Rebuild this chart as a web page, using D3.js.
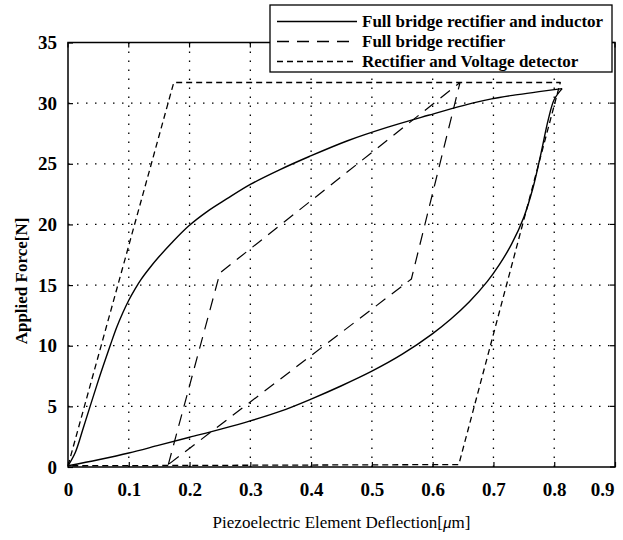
<!DOCTYPE html>
<html>
<head>
<meta charset="utf-8">
<script src="https://cdn.jsdelivr.net/npm/d3@7/dist/d3.min.js"></script>
<style>
  html, body { margin: 0; padding: 0; background: #fff; }
  svg { display: block; }
</style>
</head>
<body>
<svg id="chart" width="623" height="540"></svg>
<script>
// Axis ticks
const xTicks = [0, 0.1, 0.2, 0.3, 0.4, 0.5, 0.6, 0.7, 0.8, 0.9];
const yTicks = [0, 5, 10, 15, 20, 25, 30, 35];

// Full bridge rectifier and inductor: loading branch then unloading branch
const inductorUpX = [0, 0.012, 0.025, 0.037, 0.053, 0.07, 0.08, 0.09, 0.1, 0.11, 0.12, 0.135, 0.15, 0.17, 0.198, 0.23, 0.261, 0.3, 0.348, 0.397, 0.46, 0.525, 0.593, 0.65, 0.697, 0.74, 0.775, 0.813];
const inductorUpY = [0.1, 1.2, 3.2, 5.1, 7.6, 10.1, 11.5, 12.7, 13.75, 14.65, 15.45, 16.45, 17.35, 18.45, 19.85, 21.1, 22.1, 23.3, 24.5, 25.6, 26.9, 28.0, 29.0, 29.8, 30.35, 30.7, 30.95, 31.2];
const inductorDownX = [0.813, 0.80, 0.79, 0.778, 0.765, 0.75, 0.73, 0.71, 0.69, 0.66, 0.63, 0.6, 0.55, 0.5, 0.45, 0.4, 0.35, 0.3, 0.25, 0.2, 0.15, 0.1, 0.05, 0];
const inductorDownY = [31.2, 30.3, 28.6, 25.8, 23.0, 20.6, 18.4, 16.7, 15.3, 13.6, 12.2, 11.0, 9.3, 7.9, 6.7, 5.6, 4.6, 3.8, 3.1, 2.45, 1.8, 1.15, 0.6, 0.1];

// Full bridge rectifier loop
const bridgeX = [0.165, 0.25, 0.645, 0.565, 0.165];
const bridgeY = [0.2, 16.0, 31.7, 15.5, 0.2];

// Rectifier and Voltage detector loop
const detectorX = [0, 0.174, 0.81, 0.643, 0];
const detectorY = [0.1, 31.7, 31.7, 0.2, 0.1];

const legendLabels = [
  "Full bridge rectifier and inductor",
  "Full bridge rectifier",
  "Rectifier and Voltage detector"
];

const serif = "'Liberation Serif', 'Times New Roman', Times, serif";
const plot = { left: 68, right: 615, top: 42.5, bottom: 467 };

const svg = d3.select("#chart");
svg.append("rect").attr("width", 623).attr("height", 540).attr("fill", "#fff");

const x = d3.scaleLinear().domain([0, 0.9]).range([plot.left, plot.right]);
const y = d3.scaleLinear().domain([0, 35]).range([plot.bottom, plot.top]);
const W = plot.right - plot.left, H = plot.bottom - plot.top;

// Dotted grid at interior ticks
const gridX = xTicks.filter(d => d > 0 && d < 0.9);
const gridY = yTicks.filter(d => d > 0 && d < 35);
const grid = svg.append("g").attr("stroke", "#000").attr("stroke-width", 1.3)
  .attr("stroke-dasharray", "1.5,7.5").attr("fill", "none");
grid.selectAll("line.gx").data(gridX).join("line")
  .attr("x1", d => x(d)).attr("x2", d => x(d))
  .attr("y1", plot.bottom).attr("y2", plot.top);
grid.selectAll("line.gy").data(gridY).join("line")
  .attr("y1", d => y(d)).attr("y2", d => y(d))
  .attr("x1", plot.left).attr("x2", plot.right);

// Axes with inward ticks
const xAxis = d3.axisBottom(x).tickValues(xTicks).tickFormat(d3.format("")).tickSizeInner(-5).tickSizeOuter(0).tickPadding(16);
const yAxis = d3.axisLeft(y).tickValues(yTicks).tickFormat(d3.format("")).tickSizeInner(-5).tickSizeOuter(0).tickPadding(11);
const gx = svg.append("g").attr("transform", `translate(0,${plot.bottom})`).call(xAxis);
const gy = svg.append("g").attr("transform", `translate(${plot.left},0)`).call(yAxis);
[gx, gy].forEach(g => {
  g.select(".domain").remove();
  g.selectAll(".tick line").attr("stroke", "#000").attr("stroke-width", 1.2);
  g.selectAll(".tick text").attr("fill", "#000")
    .style("font-family", serif).style("font-size", "19px").style("font-weight", "bold");
});
// keep the last x label inside the canvas
gx.selectAll(".tick text").filter(d => d === 0.9).attr("text-anchor", "end").attr("x", -1);

// Ticks on the top and right sides
svg.append("g").selectAll("line").data(xTicks).join("line")
  .attr("x1", d => x(d)).attr("x2", d => x(d)).attr("y1", plot.top).attr("y2", plot.top + 5)
  .attr("stroke", "#000").attr("stroke-width", 1.2);
svg.append("g").selectAll("line").data(yTicks).join("line")
  .attr("y1", d => y(d)).attr("y2", d => y(d)).attr("x1", plot.right).attr("x2", plot.right - 5)
  .attr("stroke", "#000").attr("stroke-width", 1.2);

// Data curves
const smooth = d3.line().x(d => x(d[0])).y(d => y(d[1])).curve(d3.curveCatmullRom.alpha(0.5));
const straight = d3.line().x(d => x(d[0])).y(d => y(d[1]));
const zip = (a, b) => a.map((v, i) => [v, b[i]]);

const curves = svg.append("g").attr("fill", "none").attr("stroke", "#000").attr("stroke-linejoin", "round");
curves.append("path").attr("d", smooth(zip(inductorUpX, inductorUpY))).attr("stroke-width", 1.4);
curves.append("path").attr("d", smooth(zip(inductorDownX, inductorDownY))).attr("stroke-width", 1.4);
curves.append("path").attr("d", straight(zip(bridgeX, bridgeY)))
  .attr("stroke-width", 1.2).attr("stroke-dasharray", "12,8");
curves.append("path").attr("d", straight(zip(detectorX, detectorY)))
  .attr("stroke-width", 1.3).attr("stroke-dasharray", "6,4");

// Frame
svg.append("rect").attr("x", plot.left).attr("y", plot.top).attr("width", W).attr("height", H)
  .attr("fill", "none").attr("stroke", "#000").attr("stroke-width", 1.5);

// Axis titles
svg.append("text")
  .attr("x", (plot.left + plot.right) / 2).attr("y", 528)
  .attr("text-anchor", "middle").attr("fill", "#000")
  .style("font-family", serif).style("font-size", "17px")
  .call(t => {
    t.append("tspan").text("Piezoelectric Element Deflection[");
    t.append("tspan").style("font-style", "italic").text("\u03bc");
    t.append("tspan").text("m]");
  });
svg.append("text")
  .attr("transform", "translate(27,281) rotate(-90)")
  .attr("text-anchor", "middle").attr("fill", "#000")
  .style("font-family", serif).style("font-size", "17px").style("font-weight", "bold")
  .text("Applied Force[N]");

// Legend
const legend = svg.append("g");
legend.append("rect").attr("x", 270).attr("y", 5).attr("width", 342).attr("height", 67)
  .attr("fill", "#fff").attr("stroke", "#000").attr("stroke-width", 1.3);
const dashes = [null, "12,8", "6,4"];
legendLabels.forEach((label, i) => {
  const cy = 21.5 + i * 20;
  legend.append("line").attr("x1", 277).attr("x2", 357).attr("y1", cy).attr("y2", cy)
    .attr("stroke", "#000").attr("stroke-width", i === 0 ? 1.6 : 1.3)
    .attr("stroke-dasharray", dashes[i]);
  legend.append("text").attr("x", 362).attr("y", cy + 5.5).attr("fill", "#000")
    .style("font-family", serif).style("font-size", "17px").style("font-weight", "bold")
    .text(label);
});
</script>
</body>
</html>
